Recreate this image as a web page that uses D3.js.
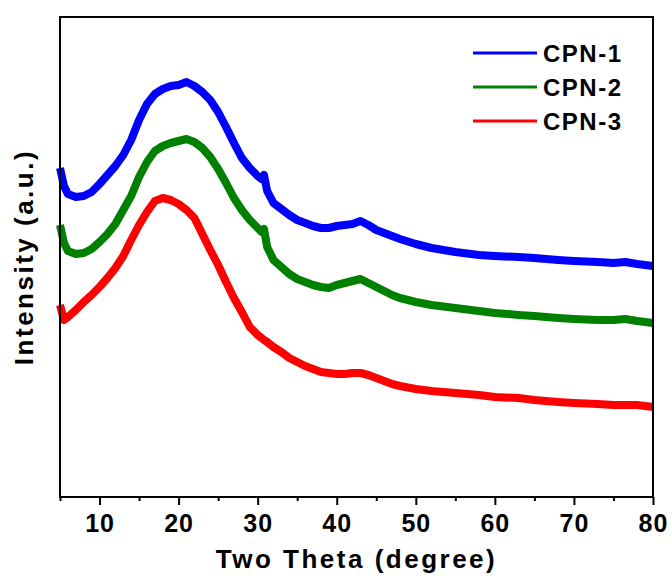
<!DOCTYPE html>
<html>
<head>
<meta charset="utf-8">
<script src="https://d3js.org/d3.v7.min.js"></script>
<style>
    body { margin: 0; background: #fff; }
    text { font-family: "Liberation Sans", Arial, sans-serif; font-weight: bold; fill: #000; }
</style>
</head>
<body>
<div id="chart"></div>
<script>
// two theta positions (degree) the curves were read at
const theta = [5, 5.5, 6, 7, 8, 9, 10, 11, 12, 13, 14, 15, 16, 17, 18, 19, 20, 21, 22, 23, 24, 25, 26, 27, 28, 29, 30,
    30.5, 30.8, 31.2, 32, 33, 34, 35, 36, 37, 38, 39, 40, 41, 42, 43, 44, 45, 46, 47, 48, 50, 52, 55, 58, 60, 63,
    65, 68, 70, 73, 75, 76.5, 78, 80];

// intensities (a.u.), curves already stacked as in the figure
const cpn1 = [329, 311, 303, 300, 301, 305, 313, 322, 331, 342, 357, 377, 393, 403, 408, 411, 412, 415, 411, 405, 397, 385, 370, 354, 339, 329, 321,
    318, 322, 306, 294, 288, 282, 277, 274, 271, 269, 269, 271, 272, 273, 276, 272, 267, 264, 261, 258, 253, 249, 245, 242, 241, 240,
    239, 237, 236, 235, 234, 235, 233, 231];
const cpn2 = [272, 254, 246, 243, 244, 248, 255, 263, 273, 287, 301, 320, 335, 346, 351, 354, 356, 358, 355, 349, 340, 328, 314, 299, 287, 277, 269,
    265, 268, 250, 237, 230, 223, 218, 215, 212, 210, 209, 212, 214, 216, 218, 214, 210, 206, 202, 199, 195, 192, 189, 186, 184, 182,
    181, 179, 178, 177, 177, 178, 176, 174];
const cpn3 = [192, 177, 180, 187, 195, 202, 210, 219, 229, 241, 257, 272, 285, 296, 299, 297, 293, 287, 279, 263, 247, 232, 215, 199, 185, 170, 162,
    159, 157, 155, 150, 145, 139, 135, 131, 128, 125, 124, 123, 123, 124, 124, 122, 119, 116, 113, 111, 108, 106, 104, 102, 100, 99,
    97, 95, 94, 93, 92, 92, 92, 90];

const seriesNames = ['CPN-1', 'CPN-2', 'CPN-3'];
const seriesColors = ['#0000ff', '#008000', '#ff0000'];
const majorTicks = [10, 20, 30, 40, 50, 60, 70, 80];
const minorTicks = [5, 15, 25, 35, 45, 55, 65, 75];

class XrdChart {
    constructor(_config, _data) {
        this.config = {
            parentElement: _config.parentElement,
            containerWidth: _config.containerWidth || 672,
            containerHeight: _config.containerHeight || 578,
            margin: _config.margin || {top: 17, right: 19, bottom: 81, left: 60}
        }
        this.data = _data;
        this.initVis();
    }

    initVis() {
        let vis = this;

        vis.width = vis.config.containerWidth - vis.config.margin.left - vis.config.margin.right;
        vis.height = vis.config.containerHeight - vis.config.margin.top - vis.config.margin.bottom;

        vis.svg = d3.select(vis.config.parentElement).append('svg')
            .attr('width', vis.config.containerWidth)
            .attr('height', vis.config.containerHeight);

        vis.chart = vis.svg.append('g')
            .attr('transform', `translate(${vis.config.margin.left},${vis.config.margin.top})`);

        vis.xScale = d3.scaleLinear().domain([5, 80]).range([0, vis.width]);
        vis.yScale = d3.scaleLinear().domain([0, 480]).range([vis.height, 0]);

        vis.xAxis = d3.axisBottom(vis.xScale)
            .tickValues(majorTicks)
            .tickSize(8)
            .tickPadding(9)
            .tickSizeOuter(0);

        vis.xMinor = d3.axisBottom(vis.xScale)
            .tickValues(minorTicks)
            .tickSize(4)
            .tickFormat('')
            .tickSizeOuter(0);

        vis.line = d3.line()
            .x(d => vis.xScale(d.x))
            .y(d => vis.yScale(d.y));
    }

    renderVis() {
        let vis = this;

        vis.chart.selectAll('.curve')
            .data(vis.data)
            .join('path')
            .attr('class', 'curve')
            .attr('d', d => vis.line(d.values))
            .attr('fill', 'none')
            .attr('stroke', d => d.color)
            .attr('stroke-width', 8)
            .attr('stroke-linejoin', 'round');

        // frame
        vis.chart.append('rect')
            .attr('width', vis.width)
            .attr('height', vis.height)
            .attr('fill', 'none')
            .attr('stroke', '#000')
            .attr('stroke-width', 2);

        const xg = vis.chart.append('g')
            .attr('transform', `translate(0,${vis.height})`)
            .call(vis.xAxis);
        xg.select('.domain').remove();
        xg.selectAll('line').attr('stroke', '#000').attr('stroke-width', 2);
        xg.selectAll('text')
            .style('font-family', '"Liberation Sans", Arial, sans-serif')
            .style('font-weight', 'bold')
            .style('font-size', '25px')
            .style('letter-spacing', '1px')
            .attr('fill', '#000');

        const xm = vis.chart.append('g')
            .attr('transform', `translate(0,${vis.height})`)
            .call(vis.xMinor);
        xm.select('.domain').remove();
        xm.selectAll('line').attr('stroke', '#000').attr('stroke-width', 2);

        // axis titles
        vis.svg.append('text')
            .attr('x', vis.config.margin.left + vis.width / 2)
            .attr('y', 568)
            .attr('text-anchor', 'middle')
            .style('font-size', '26px')
            .style('letter-spacing', '2.5px')
            .text('Two Theta (degree)');

        vis.svg.append('text')
            .attr('transform', `translate(33,${vis.config.margin.top + vis.height / 2}) rotate(-90)`)
            .attr('text-anchor', 'middle')
            .style('font-size', '26px')
            .style('letter-spacing', '2.5px')
            .text('Intensity (a.u.)');

        // legend
        const legend = vis.svg.append('g').attr('transform', 'translate(473,53)');
        const items = legend.selectAll('g')
            .data(vis.data)
            .join('g')
            .attr('transform', (d, i) => `translate(0,${i * 34})`);
        items.append('line')
            .attr('x1', 0).attr('x2', 64)
            .attr('stroke', d => d.color)
            .attr('stroke-width', 3);
        items.append('text')
            .attr('x', 70)
            .attr('dy', '0.36em')
            .style('font-size', '24px')
            .style('letter-spacing', '1.5px')
            .text(d => d.name);
    }
}

const data = [cpn1, cpn2, cpn3].map((s, i) => ({
    name: seriesNames[i],
    color: seriesColors[i],
    values: theta.map((t, j) => ({x: t, y: s[j]}))
}));

const xrd = new XrdChart({parentElement: '#chart'}, data);
xrd.renderVis();
</script>
</body>
</html>
